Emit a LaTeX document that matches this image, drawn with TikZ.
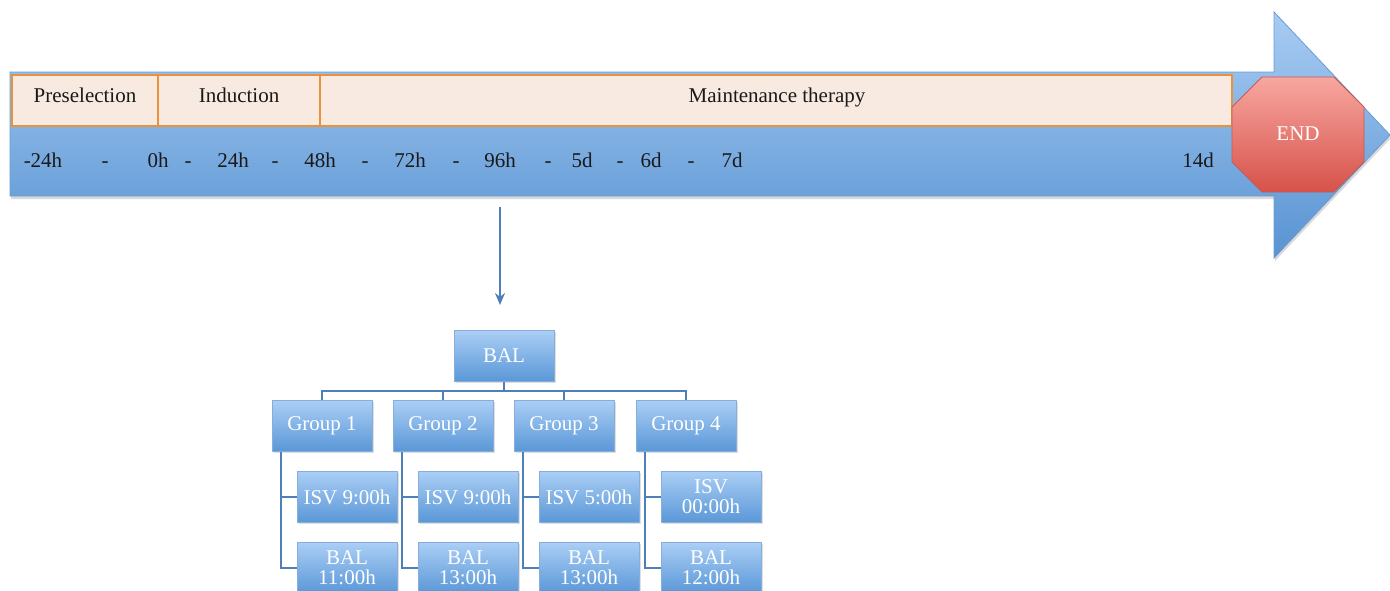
\documentclass[tikz,border=0pt]{standalone}
\usepackage{fontspec}
\setmainfont{Liberation Serif}
\usetikzlibrary{positioning,shadows,arrows.meta}
\definecolor{arrowtop}{HTML}{A8CCF3}
\definecolor{arrowbot}{HTML}{5893D2}
\definecolor{arrowedge}{HTML}{6A9BD3}
\definecolor{boxtop}{HTML}{AACEF5}
\definecolor{boxbot}{HTML}{5A97D7}
\definecolor{boxedge}{HTML}{86AEDD}
\definecolor{phasefill}{HTML}{F8EAE0}
\definecolor{phaseedge}{HTML}{E8923A}
\definecolor{stoptop}{HTML}{F7A7A0}
\definecolor{stopbot}{HTML}{D6524A}
\definecolor{stopedge}{HTML}{C55A52}
\definecolor{linkblue}{HTML}{4F7FB8}
\tikzset{
  box/.style={draw=boxedge,line width=0.3pt,top color=boxtop,bottom color=boxbot,
    text=white,minimum width=50pt,minimum height=25.5pt,inner sep=1pt,align=center,
    font=\fontsize{10.5}{10}\selectfont,
    drop shadow={opacity=0.25,shadow xshift=0.8pt,shadow yshift=-0.8pt}},
  phase/.style={draw=phaseedge,fill=phasefill,line width=0.8pt},
  lbl/.style={font=\fontsize{10.5}{12}\selectfont,text=black!90,
    text height=1.6ex,text depth=0.3ex},
  link/.style={draw=linkblue,line width=0.8pt}
}
\begin{document}
\begin{tikzpicture}[x=0.5pt,y=-0.5pt]
\useasboundingbox (0,0) rectangle (1390,590);
\clip (0,0) rectangle (1390,590);
% timeline arrow
\draw[draw=arrowedge,line width=0.4pt,top color=arrowtop,bottom color=arrowbot,
  drop shadow={opacity=0.3,shadow xshift=0.5pt,shadow yshift=-1.5pt}]
  (10,72) -- (1274,72) -- (1274,12) -- (1390,135) -- (1274,258) -- (1274,196)
  -- (10,196) -- cycle;
% phases
\draw[phase] (12,75) rectangle (158,126);
\draw[phase] (158,75) rectangle (320,126);
\draw[phase] (320,75) rectangle (1232,126);
\node[lbl] (pre) at (85,97) {Preselection};
\node[lbl] (ind) at (239,97) {Induction};
\node[lbl] (mnt) at (777,97) {Maintenance therapy};
% time points
\foreach \x/\t in {43/-24h,105/-,158/0h,188/-,233/24h,275/-,320/48h,365/-,410/72h,
  456/-,500/96h,548/-,582/5d,620/-,651/6d,691/-,732/7d,1198/14d}
  \node[lbl] at (\x,162) {\t};
% end sign
\draw[draw=stopedge,line width=0.4pt,top color=stoptop,bottom color=stopbot]
  (1262,77) -- (1334,77) -- (1364,107) -- (1364,162) -- (1334,192) -- (1262,192)
  -- (1232,162) -- (1232,107) -- cycle;
\node[text=white,font=\fontsize{10.5}{12}\selectfont] (end) at (1298,134) {END};
% down arrow
\coordinate (src) at (500,207);
\coordinate (dst) at (500,305);
\draw[link,line width=1pt,-{Stealth[length=6pt,width=5pt]}] (src) -- (dst);
% tree
\node[box] (bal) at (504,356) {BAL};
\foreach \i/\x/\a/\b in {1/322/ISV 9:00h/BAL\\11:00h,2/443/ISV 9:00h/BAL\\13:00h,
  3/564/ISV 5:00h/BAL\\13:00h,4/686/ISV\\00:00h/BAL\\12:00h}{
  \node[box] (g\i) at (\x,426) {Group \i};
  \node[box] (isv\i) at (\x+25,497) {\a};
  \node[box] (s\i) at (\x+25,568) {\b};
  \draw[link] (bal.south) -- ++(0,9) -| (g\i.north);
  \draw[link] ([xshift=4.5pt]g\i.south west) |- (isv\i.west);
  \draw[link] ([xshift=4.5pt]g\i.south west) |- (s\i.west);
}
\end{tikzpicture}
\end{document}
